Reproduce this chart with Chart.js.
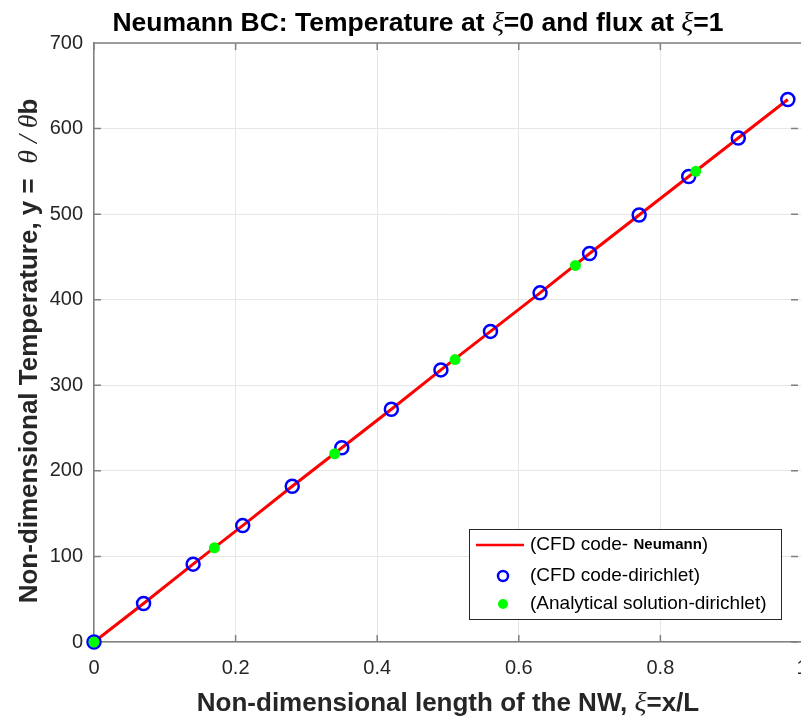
<!DOCTYPE html>
<html>
<head>
<meta charset="utf-8">
<script src="https://cdn.jsdelivr.net/npm/chart.js@4.4.0/dist/chart.umd.min.js"></script>
<style>
  html, body { margin: 0; padding: 0; background: #fff; overflow: hidden; }
  #wrap { width: 801px; height: 719px; position: relative; overflow: hidden; }
</style>
</head>
<body>
<div id="wrap"><canvas id="chart" width="811" height="719"></canvas></div>
<script>
// x positions and values
const cfdX = [0, 0.07, 0.14, 0.21, 0.28, 0.35, 0.42, 0.49, 0.56, 0.63, 0.70, 0.77, 0.84, 0.91, 0.98];
const cfdY = [0, 45, 91, 136, 182, 227, 272, 318, 363, 408, 454, 499, 544, 589, 634];
const anaX = [0, 0.17, 0.34, 0.51, 0.68, 0.85];
const anaY = [0, 110, 220, 330, 440, 550];
const xTicks = [0, 0.2, 0.4, 0.6, 0.8, 1];
const yTicks = [0, 100, 200, 300, 400, 500, 600, 700];

const SANS = '"Liberation Sans", Arial, sans-serif';
const SERIF = '"Liberation Serif", "Times New Roman", serif';

const toPts = (xs, ys) => xs.map((x, i) => ({ x: x, y: ys[i] }));

// draw a run of text pieces with different fonts, centred on x
function drawRich(ctx, segs, x, y) {
  let total = 0;
  segs.forEach(s => { ctx.font = s.font; total += ctx.measureText(s.text).width; });
  let cx = x - total / 2;
  segs.forEach(s => {
    ctx.font = s.font;
    ctx.fillText(s.text, cx, y);
    cx += ctx.measureText(s.text).width;
  });
}

// MATLAB style inward tick marks on all four sides
const ticksPlugin = {
  id: 'inTicks',
  beforeDatasetsDraw(chart) {
    const ctx = chart.ctx;
    const a = chart.chartArea;
    const sx = chart.scales.x, sy = chart.scales.y;
    const len = 7;
    ctx.save();
    ctx.strokeStyle = '#808080';
    ctx.lineWidth = 1.5;
    ctx.beginPath();
    xTicks.forEach(v => {
      const px = sx.getPixelForValue(v);
      ctx.moveTo(px, a.bottom); ctx.lineTo(px, a.bottom - len);
      ctx.moveTo(px, a.top); ctx.lineTo(px, a.top + len);
    });
    yTicks.forEach(v => {
      const py = sy.getPixelForValue(v);
      ctx.moveTo(a.left, py); ctx.lineTo(a.left + len, py);
      ctx.moveTo(a.right - 4, py); ctx.lineTo(a.right - 4 - len, py);
    });
    ctx.moveTo(a.left, a.top); ctx.lineTo(a.right, a.top);
    ctx.stroke();
    ctx.restore();
  }
};

const labelsPlugin = {
  id: 'labels',
  afterDraw(chart) {
    const ctx = chart.ctx;
    ctx.save();
    ctx.fillStyle = '#000';
    ctx.textBaseline = 'alphabetic';
    ctx.textAlign = 'left';

    // title
    drawRich(ctx, [
      { text: 'Neumann BC: Temperature at ', font: 'bold 26.5px ' + SANS },
      { text: 'ξ', font: 'italic 28px ' + SERIF },
      { text: '=0 and flux at ', font: 'bold 26.5px ' + SANS },
      { text: 'ξ', font: 'italic 28px ' + SERIF },
      { text: '=1', font: 'bold 26.5px ' + SANS }
    ], 418, 31);

    // x label
    ctx.fillStyle = '#262626';
    drawRich(ctx, [
      { text: 'Non-dimensional length of the NW, ', font: 'bold 26px ' + SANS },
      { text: 'ξ', font: 'italic 28px ' + SERIF },
      { text: '=x/L', font: 'bold 26px ' + SANS }
    ], 448, 711);

    // y label
    ctx.save();
    ctx.translate(37, 351);
    ctx.rotate(-Math.PI / 2);
    drawRich(ctx, [
      { text: 'Non-dimensional Temperature, y =  ', font: 'bold 26px ' + SANS },
      { text: 'θ / θ', font: 'italic 28px ' + SERIF },
      { text: 'b', font: 'bold 26px ' + SANS }
    ], 0, 0);
    ctx.restore();

    // legend box inside the axes
    const bx = 469, by = 529, bw = 312, bh = 90;
    ctx.fillStyle = '#fff';
    ctx.fillRect(bx, by, bw, bh);
    ctx.strokeStyle = '#262626';
    ctx.lineWidth = 1;
    ctx.strokeRect(bx + 0.5, by + 0.5, bw, bh);
    const rows = [545, 576, 604];
    // row 1: red line
    ctx.strokeStyle = '#ff0000';
    ctx.lineWidth = 2.5;
    ctx.beginPath();
    ctx.moveTo(476, rows[0]);
    ctx.lineTo(524, rows[0]);
    ctx.stroke();
    // row 2: blue circle
    ctx.strokeStyle = '#0000ff';
    ctx.lineWidth = 2.5;
    ctx.beginPath();
    ctx.arc(503, rows[1], 5, 0, Math.PI * 2);
    ctx.stroke();
    // row 3: green dot
    ctx.fillStyle = '#00ff00';
    ctx.beginPath();
    ctx.arc(503, rows[2], 5, 0, Math.PI * 2);
    ctx.fill();

    ctx.fillStyle = '#000';
    ctx.textBaseline = 'middle';
    ctx.font = '19px ' + SANS;
    ctx.fillText('(CFD code- ', 530, rows[0]);
    let w = ctx.measureText('(CFD code- ').width;
    ctx.font = 'bold 15px ' + SANS;
    ctx.fillText('Neumann', 530 + w, rows[0]);
    w += ctx.measureText('Neumann').width;
    ctx.font = '19px ' + SANS;
    ctx.fillText(')', 530 + w, rows[0]);
    ctx.fillText('(CFD code-dirichlet)', 530, rows[1]);
    ctx.fillText('(Analytical solution-dirichlet)', 530, rows[2]);
    ctx.restore();
  }
};

new Chart(document.getElementById('chart'), {
  type: 'scatter',
  data: {
    datasets: [
      {
        label: '(CFD code- Neumann)',
        data: toPts(cfdX, cfdY),
        showLine: true,
        borderColor: '#ff0000',
        borderWidth: 3,
        pointRadius: 0,
        clip: false,
        order: 3
      },
      {
        label: '(CFD code-dirichlet)',
        data: toPts(cfdX, cfdY),
        showLine: false,
        pointStyle: 'circle',
        pointRadius: 6.5,
        pointBorderWidth: 2.5,
        pointBorderColor: '#0000ff',
        pointBackgroundColor: 'rgba(0,0,0,0)',
        clip: false,
        order: 2
      },
      {
        label: '(Analytical solution-dirichlet)',
        data: toPts(anaX, anaY),
        showLine: false,
        pointStyle: 'circle',
        pointRadius: 5.5,
        pointBorderWidth: 0,
        pointBackgroundColor: '#00ff00',
        clip: false,
        order: 1
      }
    ]
  },
  plugins: [ticksPlugin, labelsPlugin],
  options: {
    responsive: false,
    animation: false,
    layout: { padding: { top: 43, left: 0, right: 0, bottom: 0 } },
    plugins: {
      legend: { display: false },
      title: { display: false },
      tooltip: { enabled: false }
    },
    scales: {
      x: {
        type: 'linear',
        min: 0,
        max: 1,
        afterBuildTicks: s => { s.ticks = xTicks.map(v => ({ value: v })); },
        afterFit: s => { s.height = 77; s.paddingLeft = 0; s.paddingRight = 0; },
        ticks: {
          color: '#262626',
          font: { family: SANS, size: 20 },
          padding: 14,
          maxRotation: 0,
          callback: v => String(v)
        },
        grid: { color: '#e6e6e6', lineWidth: 1, drawTicks: false },
        border: { color: '#808080', width: 1.5 }
      },
      y: {
        type: 'linear',
        min: 0,
        max: 700,
        afterBuildTicks: s => { s.ticks = yTicks.map(v => ({ value: v })); },
        afterFit: s => { s.width = 94; s.paddingTop = 0; s.paddingBottom = 0; },
        ticks: {
          color: '#262626',
          font: { family: SANS, size: 20 },
          padding: 11,
          callback: v => String(v)
        },
        grid: { color: '#e6e6e6', lineWidth: 1, drawTicks: false },
        border: { color: '#808080', width: 1.5 }
      }
    }
  }
});
</script>
</body>
</html>
